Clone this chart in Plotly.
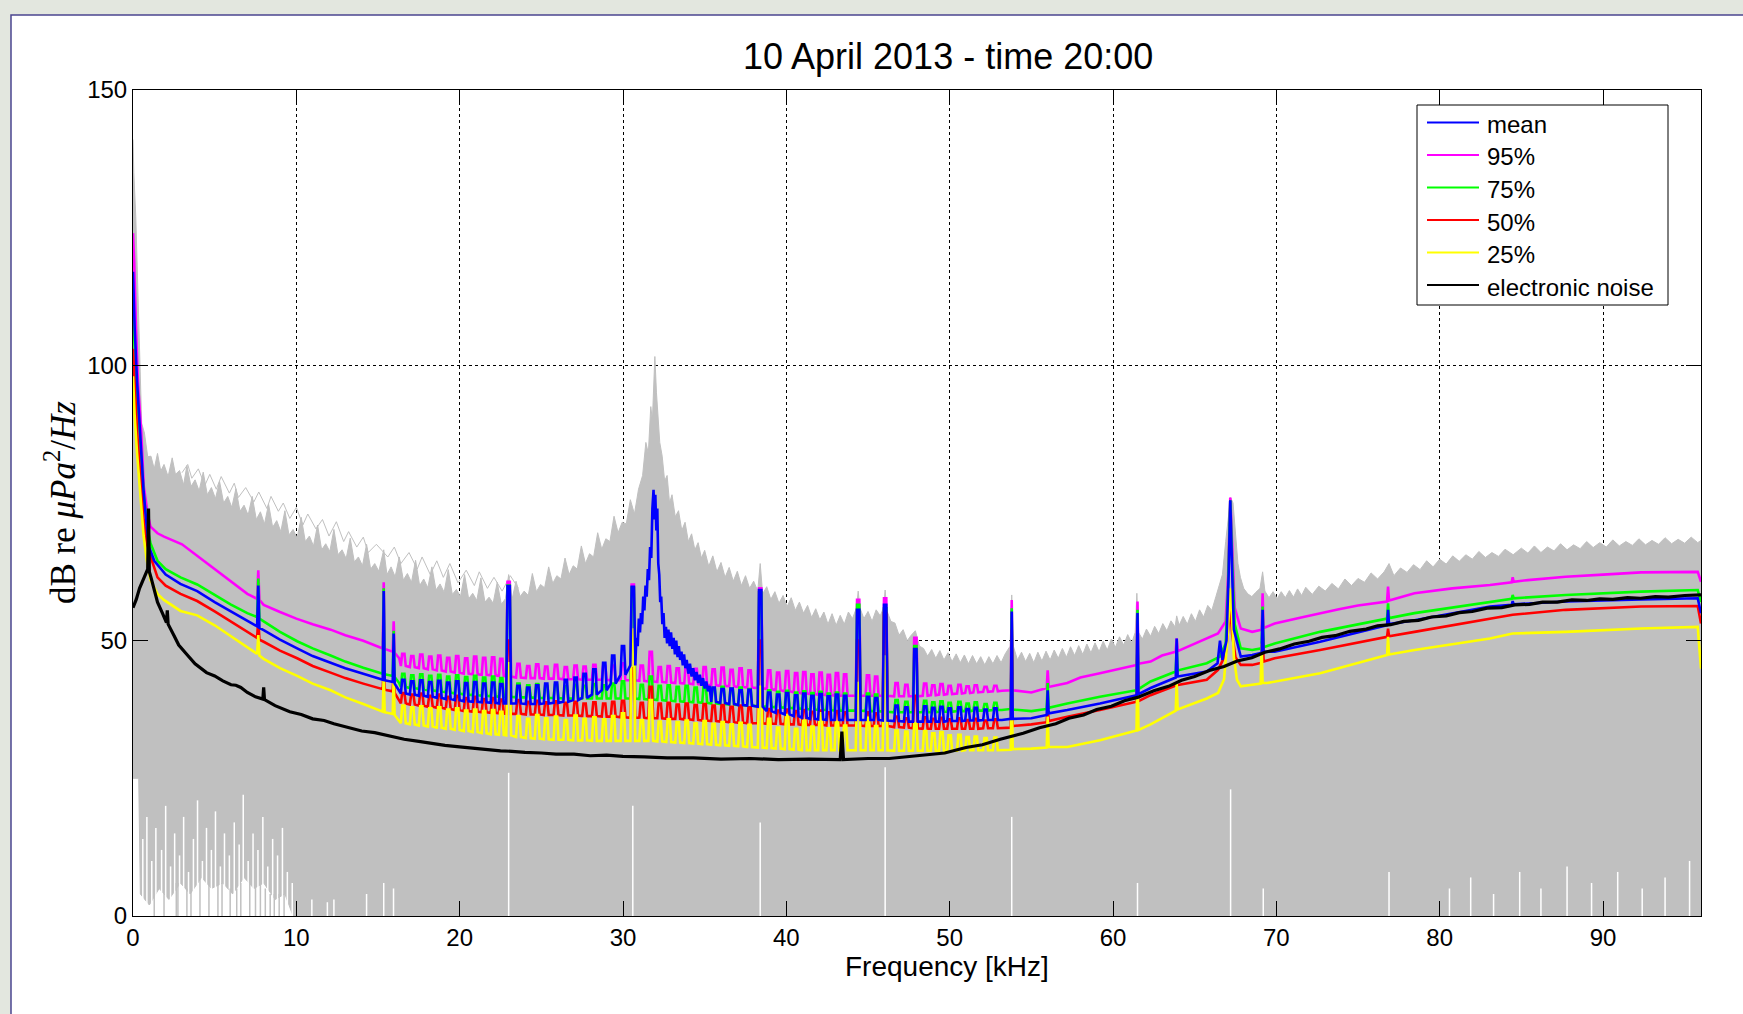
import plotly.graph_objects as go

# ------------------------------------------------------------------ data
x_ticks = [0, 10, 20, 30, 40, 50, 60, 70, 80, 90]
y_ticks = [0, 50, 100, 150]

# grey band = envelope of all individual spectra: (kHz, dB) along its upper edge
band_top = [(0, 141), (0.05, 135), (0.17, 127), (0.34, 108), (0.53, 89.5), (0.7, 87.7), (0.9, 83.4),
            (1.1, 83.5), (1.3, 81.2), (1.5, 84.0), (1.7, 80.8), (1.9, 82.0), (2.15, 79.8), (2.4, 83.2),
            (2.6, 80.2), (2.85, 80.9), (3.1, 78.3), (3.3, 81.8), (3.55, 78.0), (3.8, 79.2), (4.05, 77.2),
            (4.3, 80.6), (4.55, 76.5), (4.8, 77.8), (5.05, 75.8), (5.3, 78.9), (5.55, 75.0), (5.8, 76.2),
            (6.05, 74.2), (6.3, 77.6), (6.55, 73.5), (6.8, 74.6), (7.05, 72.8), (7.3, 76.2), (7.55, 72.0),
            (7.8, 73.4), (8.05, 71.2), (8.3, 74.8), (8.55, 70.6), (8.8, 71.8), (9.05, 69.8), (9.3, 73.6),
            (9.55, 69.2), (9.8, 70.2), (10.05, 68.6), (10.3, 72.4), (10.55, 68.0), (10.8, 69.0),
            (11.05, 67.2), (11.3, 71.0), (11.55, 66.5), (11.8, 67.6), (12.05, 66.2), (12.3, 70.2),
            (12.55, 65.6), (12.8, 66.5), (13.05, 64.9), (13.3, 68.6), (13.55, 64.3), (13.8, 65.2),
            (14.05, 63.6), (14.3, 67.5), (14.55, 63.0), (14.8, 64.0), (15.05, 62.6), (15.35, 66.5),
            (15.55, 62.0), (15.8, 63.4), (16.05, 61.6), (16.3, 65.2), (16.55, 61.0), (16.8, 62.2),
            (17.05, 60.6), (17.3, 64.6), (17.55, 60.0), (17.8, 61.2), (18.05, 59.6), (18.3, 63.4),
            (18.55, 59.2), (18.8, 60.3), (19.05, 58.8), (19.3, 62.9), (19.55, 58.4), (19.8, 59.3),
            (20.05, 58.0), (20.3, 62.0), (20.55, 57.6), (20.8, 58.6), (21.05, 57.3), (21.3, 61.4),
            (21.55, 57.0), (21.8, 57.9), (22.05, 56.8), (22.3, 60.6), (22.55, 56.6), (22.8, 57.6),
            (23.0, 62.0), (23.2, 57.4), (23.45, 60.8), (23.7, 58.0), (23.95, 59.0), (24.2, 58.2),
            (24.45, 62.2), (24.7, 58.9), (24.95, 60.2), (25.2, 59.6), (25.45, 63.4), (25.7, 60.4),
            (25.95, 61.8), (26.2, 61.2), (26.45, 65.0), (26.7, 62.0), (26.95, 63.6), (27.2, 63.0),
            (27.45, 67.2), (27.7, 64.0), (27.95, 65.8), (28.2, 65.2), (28.45, 69.6), (28.7, 66.6),
            (28.95, 68.5), (29.2, 68.0), (29.45, 72.6), (29.7, 69.6), (29.95, 71.5), (30.2, 71.2),
            (30.45, 75.6), (30.7, 73.0), (30.95, 77.5),
            (31.2, 80.0), (31.4, 86.0), (31.55, 84.0), (31.7, 92.5), (31.8, 90.0), (31.95, 101.6),
            (32.05, 95.0), (32.15, 91.0), (32.25, 86.0), (32.4, 83.5), (32.55, 79.0), (32.7, 80.0),
            (32.85, 75.0), (33.0, 76.5), (33.2, 72.5), (33.4, 73.6), (33.6, 70.0), (33.8, 71.5),
            (34.0, 68.0), (34.2, 69.4), (34.4, 66.5), (34.6, 67.8), (34.8, 65.0), (35.0, 66.4),
            (35.25, 63.5), (35.5, 65.4), (35.75, 62.5), (36.0, 64.2), (36.25, 61.5), (36.5, 63.3),
            (36.75, 60.8), (37.0, 62.6), (37.25, 60.0), (37.5, 61.8), (37.75, 59.5), (38.0, 60.8),
            (38.25, 59.0), (38.4, 64.0), (38.55, 58.5), (38.8, 59.8),
            (39.05, 57.5), (39.3, 58.9), (39.55, 56.8), (39.8, 58.2), (40.05, 56.2), (40.3, 57.8),
            (40.55, 55.5), (40.8, 57.0), (41.05, 55.0), (41.3, 56.4), (41.55, 54.2), (41.8, 55.8),
            (42.05, 53.8), (42.3, 55.2), (42.55, 53.0), (42.8, 54.9), (43.05, 52.8), (43.3, 54.6),
            (43.55, 53.0), (43.8, 55.2), (44.05, 54.0), (44.3, 56.0), (44.4, 59.0), (44.5, 56.0),
            (44.75, 54.0), (45.0, 55.3), (45.25, 53.5), (45.5, 55.6), (45.75, 54.5), (45.95, 56.0),
            (46.05, 59.2), (46.15, 55.5), (46.4, 53.5), (46.65, 53.2), (46.9, 51.0), (47.15, 52.0),
            (47.4, 50.0), (47.65, 51.0), (47.9, 51.8), (48.15, 49.0), (48.4, 48.6), (48.65, 47.2),
            (48.9, 48.4), (49.15, 46.8), (49.4, 48.2), (49.65, 46.5), (49.9, 47.8), (50.15, 46.2),
            (50.4, 47.6), (50.65, 46.0), (50.9, 47.4), (51.15, 45.8), (51.4, 47.3), (51.65, 45.8),
            (51.9, 47.1), (52.15, 45.6), (52.4, 47.1), (52.65, 45.8), (52.9, 47.3), (53.15, 46.0),
            (53.4, 47.6), (53.7, 49.0), (53.8, 58.3), (53.9, 49.0), (54.15, 46.5), (54.4, 47.9),
            (54.65, 46.2), (54.9, 47.7), (55.15, 46.0), (55.4, 47.9), (55.65, 46.3), (55.9, 48.1),
            (56.15, 46.5), (56.4, 48.3), (56.65, 46.8), (56.9, 48.6), (57.15, 47.0), (57.4, 48.9),
            (57.65, 47.3), (57.9, 49.1), (58.15, 47.5), (58.4, 49.4), (58.65, 47.8), (58.9, 49.6),
            (59.15, 48.0), (59.4, 49.9), (59.65, 48.3), (59.9, 50.3), (60.15, 48.8), (60.4, 50.7),
            (60.65, 49.2), (60.9, 51.1), (61.15, 49.6), (61.36, 51.5), (61.46, 58.6), (61.56, 51.5),
            (61.8, 50.3), (62.05, 52.1), (62.3, 50.8), (62.55, 52.6), (62.8, 51.3), (63.05, 53.1),
            (63.3, 51.8), (63.55, 53.6), (63.8, 52.5), (63.9, 54.5), (64.05, 52.8), (64.3, 54.4),
            (64.55, 53.0), (64.8, 54.9), (65.05, 53.5), (65.3, 55.6), (65.55, 54.3), (65.8, 56.4),
            (66.05, 55.5), (66.3, 58.0), (66.5, 60.0), (66.7, 62.0), (66.9, 68.0), (67.05, 72.0),
            (67.2, 76.0), (67.35, 75.0), (67.5, 70.0), (67.65, 64.0), (67.8, 61.5), (68.0, 59.5),
            (68.25, 58.5), (68.5, 58.0), (68.75, 58.8), (69.0, 59.5), (69.16, 62.5), (69.3, 59.0),
            (69.55, 57.8), (69.8, 58.9), (70.05, 57.6), (70.3, 58.9), (70.55, 57.8), (70.8, 59.1),
            (71.05, 57.9), (71.3, 59.4), (71.55, 58.2), (71.8, 59.7),
            (72.2, 58.4), (72.6, 59.9), (73.0, 59.0), (73.4, 60.4), (73.8, 59.4), (74.2, 61.2),
            (74.6, 60.0), (75.0, 61.3), (75.4, 60.6), (75.8, 62.3), (76.2, 61.2), (76.6, 62.5),
            (76.9, 64.0), (77.2, 61.8), (77.6, 63.2), (78.0, 62.4), (78.4, 63.8), (78.8, 62.9),
            (79.2, 64.5), (79.6, 63.4), (80.0, 64.8), (80.4, 63.9), (80.8, 65.4), (81.2, 64.4),
            (81.6, 65.6), (82.0, 64.8), (82.4, 66.2), (82.8, 65.1), (83.2, 66.0), (83.6, 65.3),
            (84.0, 66.6), (84.5, 65.6), (85.0, 66.8), (85.4, 65.9), (85.8, 67.2), (86.2, 66.0),
            (86.6, 67.0), (87.0, 66.3), (87.4, 67.6), (87.8, 66.5), (88.2, 67.4), (88.6, 66.7),
            (89.0, 68.0), (89.4, 66.9), (89.8, 67.8), (90.2, 67.0), (90.6, 68.3), (91.0, 67.2),
            (91.4, 68.0), (91.8, 67.3), (92.2, 68.5), (92.6, 67.4), (93.0, 68.2), (93.4, 67.5),
            (93.8, 68.7), (94.2, 67.6), (94.6, 68.4), (95.0, 67.7), (95.4, 68.8), (95.8, 67.8),
            (96.0, 68.2)]
# lower edge of the band (kHz, dB)
band_low = [(0, 25), (0.35, 25), (0.45, 4), (1.0, 2), (1.6, 5), (2.2, 3), (2.9, 6), (3.5, 4),
            (4.2, 7), (4.8, 5), (5.5, 6), (6.1, 4), (6.8, 7), (7.4, 5), (8.0, 6), (8.7, 3),
            (9.3, 4), (9.8, 0), (96.0, 0)]
# one louder individual spectrum poking above the band (kHz, dB)
thin = [(3.0, 80.5), (3.35, 82.0), (3.6, 79.5), (4.0, 81.2), (4.4, 78.2), (4.7, 80.2), (5.1, 77.5),
        (5.4, 79.8), (5.9, 76.8), (6.2, 78.6), (6.45, 76.0), (6.9, 77.8), (7.4, 75.2), (7.7, 77.0),
        (8.2, 74.0), (8.45, 76.2), (8.9, 73.5), (9.2, 75.0), (9.6, 72.2), (10.0, 74.2), (10.4, 71.0),
        (10.7, 73.0), (11.2, 70.3), (11.6, 72.0), (12.0, 69.0), (12.45, 71.6), (12.9, 68.0),
        (13.2, 69.8), (13.7, 67.0), (14.1, 68.8), (14.4, 66.0), (14.9, 67.5), (15.6, 65.2),
        (16.0, 67.0), (16.4, 64.0), (16.9, 66.0), (17.4, 63.0), (17.7, 65.2), (18.2, 62.0),
        (18.6, 64.5), (19.0, 61.5), (19.4, 64.0), (19.9, 60.5), (20.4, 62.8), (20.9, 60.0),
        (21.2, 62.5), (21.7, 59.5), (22.1, 61.5), (22.6, 59.0), (23.1, 61.8), (23.6, 59.5)]

# white gaps rising from the bottom of the band (kHz, top dB)
gap_khz = [0.6, 0.85, 1.15, 1.4, 1.75, 2.0, 2.3, 2.55, 2.85, 3.1, 3.4, 3.7, 3.95, 4.25, 4.5,
           4.8, 5.05, 5.35, 5.6, 5.9, 6.2, 6.5, 6.75, 7.05, 7.35, 7.65, 7.95, 8.25, 8.55, 8.85,
           9.15, 9.45, 9.75,
           10.95, 11.9, 12.3, 14.3, 15.35, 15.95, 23.0, 30.6, 38.4, 46.05,
           53.8, 61.5, 67.2, 69.2, 76.9, 80.6, 81.9, 83.3, 84.9, 86.2,
           87.8, 89.3, 90.9, 92.4, 93.8, 95.3]
gap_db = [14, 18, 10, 16, 12, 20, 9, 15, 11, 18, 8, 14, 21, 10, 16,
          12, 19, 9, 15, 11, 17, 13, 22, 10, 15, 12, 18, 9, 14, 11,
          16, 8, 6,
          3, 2.5, 3, 4, 6, 5, 26, 20, 17, 27,
          18, 6, 23, 5, 8, 5, 7, 4, 8, 5,
          9, 6, 8, 5, 7, 10]
# grey spectra dropping through the white strip near 0 dB (kHz, dB)
drop_khz = [1.3, 1.9, 2.65, 2.75, 3.3, 3.55, 4.1, 4.65, 5.2, 5.45, 5.95, 6.35, 6.6, 7.15,
            7.5, 7.8, 8.1, 8.4, 8.65, 8.95, 9.25]
drop_db = [5, 4, 6, 6, 5, 5, 7, 6, 6, 6, 5, 5, 6, 6, 6, 6, 5, 4, 4, 4, 4]

# comb of narrow tones between 16 and 53 kHz (positions shared by all curves)
comb_khz = [16.55, 17.1, 17.65, 18.2, 18.75, 19.3, 19.85, 20.4, 20.95, 21.5, 22.05, 22.55,
            23.0,
            23.6, 24.2, 24.75, 25.3, 25.9, 26.5, 27.1, 27.65, 28.25, 28.85, 29.4, 30.0,
            30.6,
            31.15, 31.7, 32.25, 32.8, 33.35, 33.9, 34.45, 35.0, 35.55, 36.1, 36.65, 37.2, 37.75,
            38.4,
            38.95, 39.5, 40.05, 40.6, 41.1, 41.6, 42.1, 42.6, 43.1, 43.6,
            44.4,
            45.0, 45.5,
            46.05,
            46.75, 47.35, 47.9, 48.5, 49.0, 49.5, 50.0, 50.6, 51.1, 51.6, 52.2, 52.8]

# ---- 95 %
p95_khz = [0, 0.07, 0.17, 0.3, 0.5, 0.66, 0.9, 1.07, 1.5, 1.9,
           3.0, 3.93, 5.0, 6.0, 7.0, 7.6, 7.67, 7.74, 8.0, 9.0,
           10.0, 11.0, 12.1, 13.0, 14.1, 15.1, 15.29, 15.35, 15.41, 15.9,
           15.96, 16.02, 16.3,
           53.2, 53.74, 53.8, 53.86, 55.0, 55.94, 56.0, 56.06, 57.2, 58.0,
           59.2, 60.5, 61.44, 61.5, 61.56, 62.3, 63.0, 63.84, 63.9, 63.96,
           65.0, 65.74, 66.43, 66.9, 67.05, 67.18, 67.3, 67.45, 67.82, 68.52,
           69.1, 69.16, 69.22, 69.9, 71.52, 72.68, 73.83, 75.0, 76.78, 76.84,
           76.9, 78.46, 80.77, 83.08, 84.41, 84.47, 84.53, 85.4, 87.71, 90.0,
           92.33, 95.8, 96.0]
p95_db = [124, 119, 108, 97, 88, 78, 73, 70.7, 69.5, 68.9,
          67.5, 65.4, 63.0, 60.7, 58.5, 57.6, 62.8, 57.4, 56.5, 55.2,
          54.0, 53.0, 52.0, 51.0, 50.0, 48.8, 48.6, 60.6, 48.5, 48.0,
          53.5, 47.8, 46.8,
          40.9, 41.0, 57.4, 41.0, 40.6, 41.4, 44.6, 41.6, 42.3, 43.3,
          44.1, 45.0, 45.6, 57.1, 45.8, 46.2, 47.3, 48.0, 50.4, 48.1,
          49.4, 50.4, 51.3, 53.5, 62.0, 76.0, 66.0, 56.0, 52.2, 51.6,
          52.0, 58.6, 52.3, 53.1, 54.2, 55.0, 55.7, 56.4, 57.1, 59.8,
          57.3, 58.6, 59.5, 60.1, 60.6, 61.5, 60.7, 61.0, 61.6, 62.0,
          62.4, 62.5, 60.7]
p95_comb_base = [45.4, 45.2, 45.0, 44.8, 44.6, 44.4, 44.2, 44.0, 43.9, 43.8, 43.7, 43.6,
                 43.5,
                 43.3, 43.2, 43.2, 43.1, 43.1, 43.0, 43.0, 42.9, 42.9, 42.9, 42.8, 42.8,
                 42.8,
                 42.7, 42.6, 42.5, 42.4, 42.3, 42.2, 42.1, 42.0, 41.9, 41.8, 41.7, 41.6, 41.5,
                 41.4,
                 41.2, 41.0, 40.8, 40.6, 40.4, 40.3, 40.2, 40.1, 40.0, 40.0,
                 40.0,
                 40.0, 40.0,
                 40.0,
                 39.9, 39.9, 39.9, 40.0, 40.1, 40.2, 40.3, 40.4, 40.5, 40.6, 40.7, 40.8]
p95_comb_top = [47.6, 47.2, 47.5, 47.1, 47.3, 46.9, 47.2, 46.8, 47.1, 46.9, 47.0, 46.7,
                60.7,
                45.8, 45.4, 45.7, 45.3, 45.6, 45.2, 45.5, 45.3, 45.6, 45.4, 45.5, 45.9,
                60.2,
                45.5, 48.0, 45.2, 45.4, 45.0, 45.3, 44.9, 45.2, 44.8, 45.1, 44.7, 45.0, 44.6,
                59.5,
                44.6, 44.2, 44.5, 44.1, 44.3, 43.9, 44.2, 43.8, 44.1, 43.9,
                57.4,
                43.7, 43.5,
                57.7,
                42.3, 42.0, 50.5, 42.2, 41.9, 42.1, 41.8, 42.0, 41.7, 41.9, 41.6, 41.8]

# ---- 75 %
p75_khz = [0, 0.1, 0.25, 0.45, 0.65, 0.85, 1.07, 1.5, 2.0, 2.91,
           3.93, 5.0, 5.97, 7.0, 7.6, 7.67, 7.74, 8.0, 9.0, 10.05,
           11.0, 12.1, 13.0, 14.1, 15.1, 15.29, 15.35, 15.41, 15.9, 15.96,
           16.02, 16.3,
           53.2, 53.74, 53.8, 53.86, 55.0, 55.94, 56.0, 56.06, 57.2, 59.2,
           61.44, 61.5, 61.56, 62.3, 63.84, 63.9, 63.96, 65.74, 66.55, 66.9,
           67.05, 67.18, 67.3, 67.45, 67.82, 68.52, 69.1, 69.16, 69.22, 69.9,
           72.68, 76.78, 76.84, 76.9, 78.46, 83.08, 84.41, 84.47, 84.53, 87.71,
           92.33, 95.8, 96.0]
p75_db = [112, 103, 95, 86, 77, 71, 67.7, 64.5, 63.0, 61.5,
          60.2, 58.3, 56.6, 55.0, 54.3, 61.3, 54.0, 53.5, 51.6, 49.9,
          48.6, 47.3, 46.2, 45.1, 44.1, 44.0, 59.5, 43.9, 43.6, 51.8,
          43.4, 42.3,
          37.4, 37.6, 55.9, 37.5, 37.2, 37.6, 42.3, 37.8, 38.6, 39.8,
          41.0, 55.6, 41.2, 42.6, 44.4, 48.3, 44.6, 45.9, 47.1, 49.5,
          60.0, 75.5, 64.0, 53.0, 48.6, 48.3, 48.6, 56.2, 48.8, 49.5,
          51.6, 54.0, 56.8, 54.1, 55.0, 57.1, 57.6, 58.3, 57.7, 58.3,
          58.9, 59.2, 57.0]
p75_comb_base = [41.6, 41.4, 41.2, 41.0, 40.8, 40.6, 40.4, 40.2, 40.1, 40.0, 39.9, 39.8,
                 39.8,
                 39.7, 39.7, 39.6, 39.6, 39.6, 39.5, 39.5, 39.5, 39.5, 39.5, 39.5, 39.5,
                 39.5,
                 39.4, 39.3, 39.2, 39.1, 39.0, 38.9, 38.8, 38.7, 38.6, 38.5, 38.4, 38.3, 38.2,
                 38.1,
                 38.0, 37.9, 37.8, 37.7, 37.6, 37.5, 37.4, 37.4, 37.3, 37.3,
                 37.3,
                 37.2, 37.2,
                 37.1,
                 37.0, 37.0, 37.0, 37.0, 37.0, 37.1, 37.1, 37.2, 37.2, 37.3, 37.3, 37.4]
p75_comb_top = [44.0, 43.7, 43.9, 43.6, 43.8, 43.5, 43.7, 43.4, 43.6, 43.3, 43.5, 43.2,
                60.0,
                42.2, 41.9, 42.1, 41.8, 42.0, 41.7, 42.0, 41.8, 42.1, 41.9, 42.2, 42.6,
                59.6,
                42.0, 43.5, 41.8, 41.9, 41.6, 41.8, 41.5, 41.7, 41.4, 41.6, 41.3, 41.5, 41.2,
                58.8,
                41.0, 40.7, 40.9, 40.6, 40.8, 40.5, 40.7, 40.4, 40.6, 40.4,
                56.5,
                40.4, 40.2,
                55.9,
                39.2, 38.9, 49.0, 39.1, 38.8, 39.0, 38.7, 38.9, 38.6, 38.8, 38.5, 38.7]

# ---- 50 %
p50_khz = [0, 0.1, 0.25, 0.45, 0.65, 0.85, 1.07, 1.5, 2.0, 2.91,
           3.93, 5.0, 5.97, 7.0, 7.6, 7.67, 7.74, 8.0, 9.0, 10.05,
           11.0, 12.1, 13.0, 14.1, 15.1, 15.29, 15.35, 15.41, 15.9, 15.96,
           16.02, 16.3,
           53.2, 53.74, 53.8, 53.86, 55.0, 55.94, 56.0, 56.06, 57.2, 59.2,
           61.44, 61.5, 61.56, 62.3, 63.89, 65.74, 66.43, 66.9, 67.05, 67.18,
           67.3, 67.5, 67.82, 68.52, 69.1, 69.16, 69.22, 69.9, 72.68, 76.78,
           76.84, 76.9, 78.46, 83.08, 84.47, 87.71, 92.33, 95.8, 96.0]
p50_db = [103, 96, 88, 80, 72, 67.5, 65.3, 61.5, 60.0, 58.5,
          57.2, 55.3, 53.5, 51.5, 50.5, 54.0, 50.2, 49.8, 48.2, 46.8,
          45.4, 44.2, 43.2, 42.2, 41.3, 41.2, 45.5, 41.1, 40.8, 44.5,
          40.5, 39.0,
          34.1, 34.2, 52.0, 34.5, 34.8, 35.2, 38.0, 35.4, 36.2, 37.4,
          38.9, 50.0, 39.0, 40.1, 41.9, 42.9, 44.7, 47.5, 52.0, 56.0,
          51.0, 47.0, 45.6, 45.6, 46.0, 51.9, 46.2, 46.8, 48.3, 50.7,
          52.2, 50.8, 51.6, 54.0, 54.7, 55.6, 56.2, 56.3, 53.1]
p50_comb_base = [38.6, 38.4, 38.2, 38.0, 37.8, 37.6, 37.4, 37.2, 37.1, 37.0, 36.9, 36.8,
                 36.7,
                 36.7, 36.6, 36.6, 36.5, 36.5, 36.4, 36.4, 36.3, 36.3, 36.2, 36.2, 36.1,
                 36.0,
                 36.0, 35.9, 35.9, 35.8, 35.8, 35.7, 35.6, 35.5, 35.4, 35.3, 35.2, 35.1, 35.0,
                 35.0,
                 34.9, 34.9, 34.8, 34.8, 34.7, 34.7, 34.7, 34.6, 34.6, 34.6,
                 34.6,
                 34.5, 34.5,
                 34.5,
                 34.3, 34.2, 34.1, 34.0, 34.0, 34.0, 34.0, 34.0, 34.0, 34.0, 34.1, 34.1]
p50_comb_top = [40.5, 40.2, 40.4, 40.0, 40.2, 39.8, 40.0, 39.6, 39.8, 39.4, 39.6, 39.3,
                50.0,
                39.2, 38.9, 39.1, 38.8, 39.0, 38.7, 38.9, 38.6, 38.8, 38.6, 38.9, 39.1,
                45.0,
                38.7, 41.6, 38.6, 38.7, 38.4, 38.6, 38.3, 38.5, 38.2, 38.3, 38.0, 38.2, 37.9,
                50.0,
                37.6, 37.3, 37.5, 37.2, 37.4, 37.1, 37.3, 37.0, 37.2, 37.0,
                50.0,
                37.0, 36.8,
                55.0,
                36.2, 35.9, 40.0, 36.1, 35.8, 36.0, 35.7, 35.9, 35.6, 35.8, 35.5, 35.7]

# ---- 25 %
p25_khz = [0, 0.1, 0.25, 0.45, 0.65, 0.85, 1.07, 1.5, 1.89, 2.91,
           3.93, 5.0, 5.97, 7.0, 7.6, 7.67, 7.74, 8.0, 9.0, 10.05,
           11.0, 12.1, 13.0, 14.1, 15.1, 15.29, 15.35, 15.41, 15.9, 15.96,
           16.02, 16.3,
           53.2, 53.74, 53.8, 53.86, 55.0, 55.94, 56.0, 56.06, 57.2, 59.2,
           61.44, 61.5, 61.56, 62.3, 63.84, 63.9, 63.96, 65.74, 66.43, 66.8,
           67.0, 67.1, 67.18, 67.28, 67.4, 67.59, 67.82, 68.52, 69.04, 69.1,
           69.16, 69.44, 72.68, 76.78, 76.84, 76.9, 78.46, 83.08, 84.47, 87.71,
           92.33, 95.8, 96.0]
p25_db = [98, 91, 84, 76, 69, 64.5, 61.0, 58.5, 57.4, 55.4,
          54.6, 52.8, 50.9, 48.8, 47.6, 51.0, 47.3, 46.7, 45.0, 43.6,
          42.2, 41.0, 39.7, 38.5, 37.2, 37.1, 43.8, 37.0, 36.7, 43.3,
          36.5, 35.5,
          30.1, 30.2, 44.1, 30.3, 30.4, 30.6, 36.2, 30.7, 30.7, 31.9,
          33.7, 46.5, 33.8, 34.8, 37.3, 42.3, 37.5, 39.5, 40.5, 43.0,
          50.0, 57.0, 59.5, 55.0, 47.0, 42.9, 41.7, 42.0, 42.2, 49.5,
          42.3, 42.3, 44.1, 47.4, 50.7, 47.5, 48.3, 50.4, 51.3, 51.6,
          52.2, 52.5, 44.9]
p25_comb_base = [35.0, 34.8, 34.6, 34.4, 34.2, 34.0, 33.8, 33.6, 33.4, 33.2, 33.0, 32.9,
                 32.8,
                 32.5, 32.3, 32.2, 32.1, 32.0, 32.0, 31.9, 31.9, 31.8, 31.8, 31.8, 31.8,
                 31.8,
                 31.8, 31.8, 31.7, 31.6, 31.5, 31.4, 31.3, 31.2, 31.1, 31.0, 30.9, 30.8, 30.7,
                 30.6,
                 30.5, 30.4, 30.3, 30.2, 30.1, 30.1, 30.1, 30.1, 30.1, 30.1,
                 30.1,
                 30.1, 30.1,
                 30.1,
                 30.0, 30.0, 30.0, 30.0, 30.0, 30.0, 30.0, 30.0, 30.1, 30.1, 30.1, 30.1]
p25_comb_top = [38.2, 37.9, 38.1, 37.7, 37.9, 37.5, 37.7, 37.3, 37.5, 37.2, 37.4, 37.1,
                45.9,
                36.3, 35.8, 36.5, 35.9, 36.2, 35.6, 36.4, 35.8, 36.1, 35.7, 36.3, 36.8,
                52.0,
                35.6, 39.2, 35.3, 35.7, 35.2, 35.5, 35.0, 35.4, 34.9, 35.2, 34.8, 35.1, 34.7,
                41.6,
                35.8, 34.2, 36.5, 34.0, 35.5, 34.4, 36.8, 34.1, 35.2, 34.6,
                42.3,
                36.0, 34.5,
                47.1,
                33.7, 33.5, 35.0, 33.6, 33.2, 33.4, 32.8, 32.9, 32.5, 32.6, 32.3, 32.4]

# ---- mean
mean_khz = [0, 0.1, 0.25, 0.45, 0.65, 0.85, 0.97, 1.3, 2.0, 2.9,
            3.93, 5.0, 5.97, 7.0, 7.6, 7.67, 7.74, 8.0, 9.0, 10.05,
            11.0, 12.1, 13.0, 14.1, 15.1, 15.29, 15.35, 15.41, 15.9, 15.96,
            16.02, 16.3,
            30.75, 30.82, 30.9, 30.97, 31.04, 31.1, 31.17, 31.24, 31.31, 31.38,
            31.45, 31.52, 31.59, 31.66, 31.73, 31.8, 31.87, 31.93, 31.98, 32.04,
            32.1, 32.16, 32.22, 32.28, 32.34, 32.41, 32.48, 32.55, 32.63, 32.7,
            32.78, 32.86, 32.94, 33.02, 33.1, 33.18, 33.26, 33.34, 33.42, 33.5,
            33.58, 33.66, 33.74, 33.82, 33.9, 34.0, 34.1, 34.2, 34.3, 34.4,
            34.5, 34.6, 34.7, 34.8, 34.9, 35.0, 35.1, 35.2, 35.3,
            53.2, 53.74, 53.8, 53.86, 55.0, 55.94, 56.0, 56.06, 57.2, 59.2,
            61.44, 61.5, 61.56, 62.3, 63.84, 63.9, 63.96, 65.74, 66.4, 66.55,
            66.7, 66.95, 67.08, 67.18, 67.28, 67.4, 67.82, 68.52, 69.1, 69.16,
            69.22, 69.9, 72.68, 76.78, 76.84, 76.9, 78.46, 83.08, 84.41, 84.47,
            84.53, 87.71, 92.33, 95.8, 96.0]
mean_db = [117, 107, 97, 87, 77, 70.5, 67.1, 64.5, 62.0, 60.3,
           59.0, 57.0, 55.3, 53.6, 52.6, 60.0, 52.3, 51.9, 50.2, 48.6,
           47.2, 46.0, 45.0, 44.0, 43.0, 42.9, 59.0, 42.8, 42.5, 51.3,
           42.2, 41.0,
           47.5, 50.5, 49.0, 54.0, 51.5, 55.0, 53.0, 58.0, 55.5, 60.0,
           58.0, 63.0, 61.0, 67.0, 65.0, 74.0, 77.4, 72.0, 76.5, 70.0,
           74.0, 64.0, 62.0, 57.0, 58.0, 53.0, 55.0, 50.5, 52.5, 49.5,
           52.0, 49.0, 51.5, 48.5, 50.5, 47.5, 50.0, 47.0, 49.0, 46.5,
           48.0, 45.5, 47.5, 45.0, 46.5, 44.0, 45.8, 43.5, 45.0, 42.8,
           44.3, 42.3, 43.8, 41.8, 43.2, 41.3, 42.6, 40.8, 41.8,
           35.6, 35.8, 55.3, 35.8, 35.9, 36.5, 41.0, 36.8, 37.4, 38.6,
           40.1, 55.0, 40.3, 41.4, 43.3, 50.4, 43.5, 44.4, 45.9, 50.0,
           46.5, 50.0, 62.0, 75.5, 64.0, 52.0, 47.1, 47.4, 47.8, 55.6,
           48.0, 48.0, 49.8, 52.8, 55.6, 53.0, 53.7, 56.2, 56.5, 57.2,
           56.6, 57.1, 57.5, 57.7, 55.0]
mean_comb_base = [40.4, 40.2, 40.0, 39.8, 39.6, 39.4, 39.2, 39.0, 38.9, 38.8, 38.7, 38.6,
                  38.6,
                  38.6, 38.5, 38.5, 38.6, 38.7, 38.9, 39.2, 39.6, 40.2, 41.0, 42.2, 43.8,
                  45.5,
                  None, None, None, None, None, None, None, None, 38.9, 38.7, 38.5, 38.3, 38.2,
                  38.0,
                  37.2, 36.9, 36.6, 36.3, 36.0, 35.8, 35.7, 35.6, 35.6, 35.6,
                  35.6,
                  35.6, 35.6,
                  35.5,
                  35.4, 35.3, 35.3, 35.3, 35.3, 35.3, 35.4, 35.4, 35.5, 35.5, 35.6, 35.6]
mean_comb_top = [42.9, 42.6, 42.8, 42.5, 42.7, 42.4, 42.6, 42.3, 42.5, 42.2, 42.4, 42.1,
                 59.9,
                 41.8, 41.5, 41.9, 42.2, 42.4, 42.9, 43.3, 44.0, 44.8, 46.0, 47.3, 49.0,
                 59.8,
                 None, None, None, None, None, None, None, None, 41.5, 41.2, 41.3, 41.0, 41.1,
                 59.2,
                 40.6, 40.2, 40.5, 40.1, 40.4, 40.0, 40.3, 39.9, 40.2, 40.0,
                 55.6,
                 39.8, 39.6,
                 56.5,
                 38.2, 37.9, 48.5, 38.1, 37.8, 38.0, 37.7, 37.9, 37.6, 37.8, 37.5, 37.7]

# ---- electronic noise (kHz, dB)
noise = [(0, 56), (0.2, 57.5), (0.4, 59.5), (0.6, 61), (0.8, 62.5), (0.9, 63), (0.95, 74),
         (1.0, 62.5), (1.1, 61.5), (1.3, 59), (1.5, 57), (1.8, 55), (2.05, 53.3), (2.1, 55.5),
         (2.15, 53.0), (2.5, 51), (2.8, 49.2), (3.3, 47.5), (3.8, 45.8), (4.5, 44.2), (5.0, 43.6),
         (5.5, 42.7), (6.0, 42.0), (6.3, 41.9), (6.6, 41.5), (7.0, 40.6), (7.5, 39.8), (7.95, 39.4),
         (8.0, 41.5), (8.05, 39.3), (8.7, 38.2), (9.6, 37.1), (10.3, 36.6), (11.0, 35.8),
         (11.7, 35.5), (12.3, 34.9), (13.1, 34.3), (14.0, 33.6), (14.8, 33.3), (15.7, 32.7),
         (16.6, 32.1), (17.5, 31.7), (18.3, 31.3), (19.1, 31.0), (20.0, 30.7), (21.0, 30.4),
         (21.8, 30.2), (22.5, 30.0), (23.2, 29.9), (24.0, 29.7), (25.0, 29.6), (25.9, 29.4),
         (27.0, 29.4), (28.0, 29.1), (29.0, 29.2), (30.0, 29.0), (31.3, 28.9), (32.7, 28.7),
         (34.3, 28.7), (36.0, 28.5), (37.8, 28.6), (39.5, 28.4), (41.4, 28.5), (43.3, 28.4),
         (43.4, 33.5), (43.5, 28.4), (45.0, 28.6), (46.3, 28.6), (48.0, 29.1), (49.7, 29.6),
         (51.0, 30.6), (52.0, 31.1), (53.1, 32.1), (54.5, 33.2), (55.5, 34.2), (56.5, 34.9),
         (57.3, 35.9), (58.2, 36.5), (59.0, 37.5), (59.9, 38.1), (60.7, 39.1), (61.5, 39.7),
         (62.5, 40.9), (63.4, 41.7), (64.2, 42.8), (65.0, 43.5), (65.9, 44.6), (66.8, 45.3),
         (67.6, 46.3), (68.5, 46.9), (69.3, 47.9), (70.2, 48.5), (71.1, 49.4), (72.0, 49.9),
         (72.8, 50.6), (73.6, 50.9), (74.5, 51.7), (75.5, 52.1), (76.2, 52.7), (77.0, 52.9),
         (77.8, 53.5), (78.7, 53.7), (79.5, 54.3), (80.4, 54.5), (81.2, 55.1), (82.0, 55.3),
         (82.9, 55.9), (83.8, 56.0), (84.6, 56.5), (85.5, 56.6), (86.3, 57.0), (87.2, 57.0),
         (88.1, 57.4), (89.0, 57.3), (89.8, 57.6), (90.6, 57.5), (91.5, 57.8), (92.3, 57.7),
         (93.2, 58.0), (94.0, 57.9), (95.0, 58.2), (96.0, 58.3)]

legend_names = ["mean", "95%", "75%", "50%", "25%", "electronic noise"]
legend_colors = ["#0000ff", "#ff00ff", "#00ff00", "#ff0000", "#ffff00", "#000000"]

# ------------------------------------------------------------------ helpers
for a, b in [(gap_khz, gap_db), (drop_khz, drop_db), (p95_khz, p95_db), (p75_khz, p75_db),
             (p50_khz, p50_db), (p25_khz, p25_db), (mean_khz, mean_db)]:
    assert len(a) == len(b), (len(a), len(b))
for lst in [p95_comb_base, p95_comb_top, p75_comb_base, p75_comb_top, p50_comb_base,
            p50_comb_top, p25_comb_base, p25_comb_top, mean_comb_base, mean_comb_top]:
    assert len(lst) == len(comb_khz), len(lst)

TOOTH_HALF = 0.15   # half width of a comb tooth at its base (kHz)
TOOTH_TOP = 0.07    # half width of its flat top (kHz)


def curve(khz, db, base, top):
    pts = list(zip(khz, db))
    for f, b, t in zip(comb_khz, base, top):
        if t is None:
            continue
        pts += [(f - TOOTH_HALF, b), (f - TOOTH_TOP, t), (f + TOOTH_TOP, t), (f + TOOTH_HALF, b)]
    pts.sort(key=lambda p: p[0])
    return [p[0] for p in pts], [p[1] for p in pts]


def xs(pairs):
    return [p[0] for p in pairs]


def ys(pairs):
    return [p[1] for p in pairs]


def verticals(khz, db):
    vx, vy = [], []
    for f, h in zip(khz, db):
        vx += [f, f, None]
        vy += [0, h, None]
    return vx, vy


W_FIG, H_FIG = 1743, 1014
L, R, T, B = 133, 42, 90, 98
PW, PH = W_FIG - L - R, H_FIG - T - B


def px_x(x):
    return (x - L) / PW


def px_y(y):
    return (H_FIG - B - y) / PH


fig = go.Figure()

GREY = "#c0c0c0"
fig.add_trace(go.Scatter(
    x=xs(band_top) + xs(band_low)[::-1], y=ys(band_top) + ys(band_low)[::-1],
    fill="toself", fillcolor=GREY, mode="lines",
    line=dict(color=GREY, width=1), showlegend=False, hoverinfo="skip"))
fig.add_trace(go.Scatter(x=xs(thin), y=ys(thin), mode="lines",
                         line=dict(color=GREY, width=1), showlegend=False, hoverinfo="skip"))
gx, gy = verticals(gap_khz, gap_db)
fig.add_trace(go.Scatter(x=gx, y=gy, mode="lines", line=dict(color="white", width=1.5),
                         showlegend=False, hoverinfo="skip"))
dx, dy = verticals(drop_khz, drop_db)
fig.add_trace(go.Scatter(x=dx, y=dy, mode="lines", line=dict(color=GREY, width=1.5),
                         showlegend=False, hoverinfo="skip"))

LW = 2.6
for name, color, khz, db, base, top in [
        ("95%", "#ff00ff", p95_khz, p95_db, p95_comb_base, p95_comb_top),
        ("75%", "#00ff00", p75_khz, p75_db, p75_comb_base, p75_comb_top),
        ("50%", "#ff0000", p50_khz, p50_db, p50_comb_base, p50_comb_top),
        ("25%", "#ffff00", p25_khz, p25_db, p25_comb_base, p25_comb_top),
        ("mean", "#0000ff", mean_khz, mean_db, mean_comb_base, mean_comb_top)]:
    cx, cy = curve(khz, db, base, top)
    fig.add_trace(go.Scatter(x=cx, y=cy, mode="lines", name=name,
                             line=dict(color=color, width=LW), showlegend=False))

fig.add_trace(go.Scatter(x=xs(noise), y=ys(noise), mode="lines", name="electronic noise",
                         line=dict(color="black", width=3.2), showlegend=False))

# ------------------------------------------------------------------ layout
sans = "Liberation Sans, Arial, sans-serif"
axis_common = dict(
    showline=True, linecolor="black", linewidth=1, mirror="ticks",
    ticks="inside", ticklen=15, tickwidth=1, tickcolor="black",
    showgrid=True, gridcolor="black", gridwidth=1, griddash="dot",
    zeroline=False, tickfont=dict(family=sans, size=24, color="black"),
)
fig.update_xaxes(range=[0, 96], tickvals=x_ticks, ticktext=[str(v) for v in x_ticks], **axis_common)
fig.update_yaxes(range=[0, 150], tickvals=y_ticks, ticktext=[str(v) for v in y_ticks], **axis_common)

shapes = [dict(type="rect", xref="paper", yref="paper",
               x0=px_x(11), x1=px_x(1800), y0=px_y(1100), y1=px_y(15),
               fillcolor="white", line=dict(color="#4b4590", width=1.5), layer="below")]
annotations = [
    dict(text="10 April 2013 - time 20:00", xref="paper", yref="paper",
         x=px_x(947.5), y=px_y(56), xanchor="center", yanchor="middle", showarrow=False,
         font=dict(family=sans, size=36, color="black")),
    dict(text="Frequency [kHz]", xref="paper", yref="paper",
         x=px_x(947), y=px_y(966), xanchor="center", yanchor="middle", showarrow=False,
         font=dict(family=sans, size=28, color="black")),
    dict(text="dB re <i>μPa</i><sup>2</sup>/<i>Hz</i>", xref="paper", yref="paper",
         x=px_x(60), y=px_y(503), xanchor="center", yanchor="middle", showarrow=False,
         textangle=-90, font=dict(family="Liberation Serif, Times New Roman, serif", size=35, color="black")),
]

# legend box (geometry of the original MATLAB legend)
LEG_X0, LEG_X1, LEG_Y0, LEG_Y1 = 1417, 1668, 105, 305
shapes.append(dict(type="rect", xref="paper", yref="paper",
                   x0=px_x(LEG_X0), x1=px_x(LEG_X1), y0=px_y(LEG_Y1), y1=px_y(LEG_Y0),
                   fillcolor="white", line=dict(color="black", width=1), layer="above"))
for i, (nm, col) in enumerate(zip(legend_names, legend_colors)):
    yc = 122.5 + i * 32.5
    shapes.append(dict(type="line", xref="paper", yref="paper",
                       x0=px_x(1427), x1=px_x(1479), y0=px_y(yc), y1=px_y(yc),
                       line=dict(color=col, width=2), layer="above"))
    annotations.append(dict(text=nm, xref="paper", yref="paper", x=px_x(1485), y=px_y(yc + 2),
                            xanchor="left", yanchor="middle", showarrow=False,
                            font=dict(family=sans, size=24, color="black")))

fig.update_layout(
    width=W_FIG, height=H_FIG,
    margin=dict(l=L, r=R, t=T, b=B, pad=0),
    paper_bgcolor="#e3e7df", plot_bgcolor="white",
    showlegend=False, shapes=shapes, annotations=annotations,
)

fig.write_html("out.html")
